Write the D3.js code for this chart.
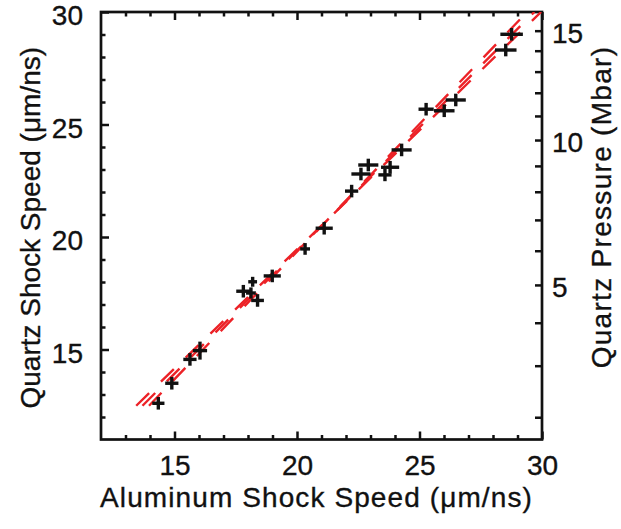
<!DOCTYPE html>
<html>
<head>
<meta charset="utf-8">
<script src="https://cdn.jsdelivr.net/npm/d3@7"></script>
<style>
  body { margin: 0; background: #fff; }
  svg { display: block; }
  text { font-family: "Liberation Sans", Arial, Helvetica, sans-serif; fill: #111; stroke: #111; stroke-width: 0.35px; }
</style>
</head>
<body>
<svg id="chart" width="621" height="529"></svg>
<script>
// ---- data ----
const aluminumSpeed = [14.34, 14.89, 15.63, 16.04, 17.81, 18.19, 18.12, 18.39, 18.99, 20.33, 21.11,
                       22.23, 22.61, 22.91, 23.59, 23.80, 24.27, 25.27, 26.01, 26.48, 28.52, 28.76];
const aluminumErr   = [0.25, 0.27, 0.27, 0.29, 0.29, 0.18, 0.20, 0.26, 0.35, 0.20, 0.35,
                       0.27, 0.39, 0.41, 0.27, 0.37, 0.41, 0.31, 0.42, 0.41, 0.44, 0.46];
const quartzSpeed   = [12.61, 13.50, 14.56, 14.95, 17.59, 18.01, 17.51, 17.18, 18.27, 19.47, 20.39,
                       22.04, 22.80, 23.20, 22.76, 23.10, 23.87, 25.68, 25.61, 26.09, 28.31, 29.01];
const quartzErr     = [0.28, 0.28, 0.28, 0.40, 0.28, 0.22, 0.25, 0.28, 0.28, 0.26, 0.28,
                       0.28, 0.28, 0.28, 0.28, 0.28, 0.28, 0.28, 0.28, 0.28, 0.28, 0.28];

// fit lines: quartz = intercept + slope * aluminum (fit and its bounds)
const fitIntercepts = [-1.73, -2.48, -3.33];
const fitSlopes     = [1.059, 1.094, 1.134];
const fitQuartzRange = [12.5, 30];

// axes
const xDomain = [12, 30];
const yDomain = [11, 30];
const xMajorTicks = [15, 20, 25, 30];
const xMinorTicks = [13, 14, 16, 17, 18, 19, 21, 22, 23, 24, 26, 27, 28, 29];
const yMajorTicks = [15, 20, 25, 30];
const yMinorTicks = [12, 13, 14, 16, 17, 18, 19, 21, 22, 23, 24, 26, 27, 28, 29];

// right axis: quartz pressure (Mbar) and the quartz shock speed it corresponds to
const pressureTicks        = [2, 3, 4, 5, 6, 7, 8, 9, 10, 11, 12, 13, 14, 15];
const pressureQuartzSpeed  = [11.99, 14.28, 16.19, 17.87, 19.39, 20.76, 22.01, 23.16, 24.31, 25.38, 26.41, 27.35, 28.28, 29.17];
const pressureMajorTicks   = [5, 10, 15];

const xTitle = "Aluminum Shock Speed (\u03bcm/ns)";
const yTitle = "Quartz Shock Speed (\u03bcm/ns)";
const y2Title = "Quartz Pressure (Mbar)";

// ---- drawing ----
const svg = d3.select("#chart");
const box = { l: 101, r: 542, t: 12, b: 439.5 };
const ink = "#111";
const FS = 28;

const x = d3.scaleLinear().domain(xDomain).range([box.l, box.r]);
const y = d3.scaleLinear().domain(yDomain).range([box.b, box.t]);
const yP = d3.scaleLinear().domain(pressureTicks).range(pressureQuartzSpeed.map(v => y(v)));

svg.append("defs").append("clipPath").attr("id", "plotclip")
  .append("rect").attr("x", box.l).attr("y", box.t)
  .attr("width", box.r - box.l).attr("height", box.b - box.t);

function styleAxis(g, fontSize) {
  g.select(".domain").remove();
  g.selectAll(".tick line").attr("stroke", ink).attr("stroke-width", 2.5);
  g.selectAll(".tick text").attr("font-size", fontSize).attr("fill", ink)
    .style("font-family", '"Liberation Sans", Arial, Helvetica, sans-serif');
}

// bottom axis
svg.append("g").attr("transform", `translate(0,${box.b})`)
  .call(d3.axisBottom(x).tickValues(xMajorTicks).tickSize(-8).tickPadding(16).tickFormat(d3.format("d")))
  .call(g => styleAxis(g, FS));
svg.append("g").attr("transform", `translate(0,${box.b})`)
  .call(d3.axisBottom(x).tickValues(xMinorTicks).tickSize(-4.5).tickFormat(""))
  .call(g => styleAxis(g, FS));
// top axis
svg.append("g").attr("transform", `translate(0,${box.t})`)
  .call(d3.axisTop(x).tickValues(xMajorTicks).tickSize(-8).tickFormat(""))
  .call(g => styleAxis(g, FS));
svg.append("g").attr("transform", `translate(0,${box.t})`)
  .call(d3.axisTop(x).tickValues(xMinorTicks).tickSize(-4.5).tickFormat(""))
  .call(g => styleAxis(g, FS));
// left axis
svg.append("g").attr("transform", `translate(${box.l},0)`)
  .call(d3.axisLeft(y).tickValues(yMajorTicks).tickSize(-8).tickPadding(18).tickFormat(d3.format("d")))
  .call(g => styleAxis(g, FS))
  .call(g => g.selectAll(".tick text").attr("dy", "0.46em"));
svg.append("g").attr("transform", `translate(${box.l},0)`)
  .call(d3.axisLeft(y).tickValues(yMinorTicks).tickSize(-4.5).tickFormat(""))
  .call(g => styleAxis(g, FS));
// right axis (pressure)
svg.append("g").attr("transform", `translate(${box.r},0)`)
  .call(d3.axisRight(yP).tickValues(pressureTicks)
        .tickSize(-7).tickPadding(10)
        .tickFormat(d => pressureMajorTicks.includes(d) ? d3.format("d")(d) : ""))
  .call(g => styleAxis(g, FS))
  .call(g => g.selectAll(".tick text").attr("dy", "0.42em"));

// frame
svg.append("rect").attr("x", box.l).attr("y", box.t)
  .attr("width", box.r - box.l).attr("height", box.b - box.t)
  .attr("fill", "none").attr("stroke", ink).attr("stroke-width", 2.7);

// fit lines
const plot = svg.append("g").attr("clip-path", "url(#plotclip)");
const line = d3.line().x(d => x(d[0])).y(d => y(d[1]));
fitSlopes.forEach((b, i) => {
  const a = fitIntercepts[i];
  const pts = fitQuartzRange.map(q => [(q - a) / b, q]);
  plot.append("path").attr("d", line(pts))
    .attr("fill", "none").attr("stroke", "#ec2227").attr("stroke-width", 2.4)
    .attr("stroke-dasharray", "18,16.5");
});

// data crosses
const pts = svg.append("g").attr("stroke", ink).attr("stroke-width", 3.4).attr("stroke-linecap", "butt");
aluminumSpeed.forEach((v, i) => {
  const q = quartzSpeed[i];
  pts.append("line")
    .attr("x1", x(v - aluminumErr[i])).attr("x2", x(v + aluminumErr[i]))
    .attr("y1", y(q)).attr("y2", y(q));
  pts.append("line")
    .attr("x1", x(v)).attr("x2", x(v))
    .attr("y1", y(q - quartzErr[i])).attr("y2", y(q + quartzErr[i]));
});

// titles
svg.append("text").attr("x", (box.l + box.r) / 2 - 5).attr("y", 507)
  .attr("text-anchor", "middle").attr("font-size", FS)
  .attr("letter-spacing", "1.1px").text(xTitle);
svg.append("text").attr("transform", `translate(40,${(box.t + box.b) / 2 + 2}) rotate(-90)`)
  .attr("text-anchor", "middle").attr("font-size", FS).text(yTitle);
svg.append("text").attr("transform", `translate(611,207) rotate(-90)`)
  .attr("text-anchor", "middle").attr("font-size", FS)
  .attr("letter-spacing", "1.3px").text(y2Title);
</script>
</body>
</html>
